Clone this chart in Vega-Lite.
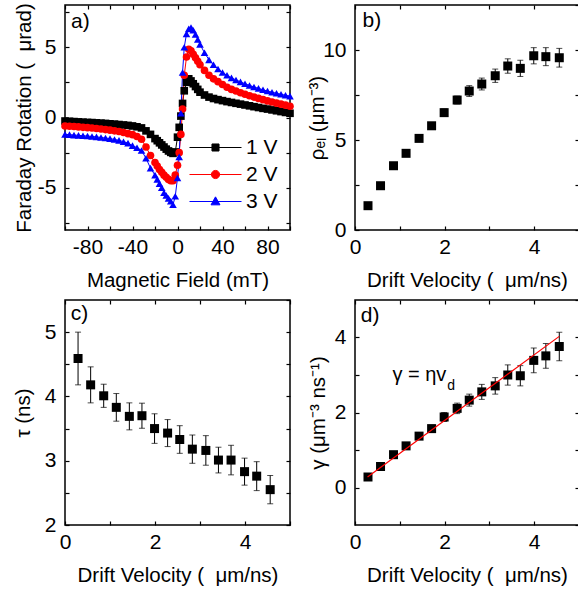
{
"$schema": "https://vega.github.io/schema/vega-lite/v6.json",
"background": "white",
"padding": {"left": 12, "top": 0, "right": 0, "bottom": 0},
"autosize": {"type": "pad"},
"columns": 2,
"spacing": {"row": 70, "column": 65},
"bounds": "flush",
"config": {
  "font": "Liberation Sans",
  "view": {"stroke": "black", "strokeWidth": 1.5},
  "axis": {"domain": false, "grid": false, "ticks": true, "tickColor": "black", "tickSize": -4, "tickWidth": 1.2, "labelFont": "Liberation Sans", "labelFontSize": 21, "labelColor": "black", "titleFont": "Liberation Sans", "titleFontSize": 20.5, "titleFontWeight": "normal", "titleColor": "black", "labelFlush": false, "labelOverlap": false, "labelPadding": 10, "titlePadding": 13},
  "axisY": {"labelPadding": 13},
  "text": {"font": "Liberation Sans", "color": "black"}
},
"datasets": {
"fr": [
{"B":-100,"F":-0.25,"S":"1 V"},{"B":-96,"F":-0.27,"S":"1 V"},{"B":-92,"F":-0.29,"S":"1 V"},{"B":-88,"F":-0.31,"S":"1 V"},{"B":-84,"F":-0.33,"S":"1 V"},{"B":-80,"F":-0.35,"S":"1 V"},{"B":-76,"F":-0.36,"S":"1 V"},{"B":-72,"F":-0.38,"S":"1 V"},{"B":-68,"F":-0.4,"S":"1 V"},{"B":-64,"F":-0.42,"S":"1 V"},{"B":-60,"F":-0.45,"S":"1 V"},{"B":-56,"F":-0.47,"S":"1 V"},{"B":-52,"F":-0.5,"S":"1 V"},{"B":-48,"F":-0.53,"S":"1 V"},{"B":-44,"F":-0.56,"S":"1 V"},{"B":-40,"F":-0.6,"S":"1 V"},{"B":-36,"F":-0.66,"S":"1 V"},{"B":-32,"F":-0.74,"S":"1 V"},{"B":-28,"F":-0.95,"S":"1 V"},{"B":-24,"F":-1.2,"S":"1 V"},
{"B":-20,"F":-1.5,"S":"1 V"},{"B":-18,"F":-1.65,"S":"1 V"},{"B":-16,"F":-1.8,"S":"1 V"},{"B":-14,"F":-1.95,"S":"1 V"},{"B":-12,"F":-2.1,"S":"1 V"},{"B":-10,"F":-2.25,"S":"1 V"},{"B":-8,"F":-2.38,"S":"1 V"},{"B":-6,"F":-2.48,"S":"1 V"},{"B":-4,"F":-2.55,"S":"1 V"},{"B":-2,"F":-2.45,"S":"1 V"},
{"B":0,"F":-1.4,"S":"1 V"},{"B":1.5,"F":-0.7,"S":"1 V"},{"B":3,"F":0.1,"S":"1 V"},{"B":4.5,"F":1.0,"S":"1 V"},{"B":6,"F":1.9,"S":"1 V"},
{"B":8,"F":2.5,"S":"1 V"},{"B":10,"F":2.75,"S":"1 V"},{"B":12,"F":2.6,"S":"1 V"},{"B":14,"F":2.4,"S":"1 V"},{"B":16,"F":2.2,"S":"1 V"},{"B":18,"F":2.0,"S":"1 V"},{"B":20,"F":1.8,"S":"1 V"},
{"B":24,"F":1.6,"S":"1 V"},{"B":28,"F":1.45,"S":"1 V"},{"B":32,"F":1.35,"S":"1 V"},{"B":36,"F":1.27,"S":"1 V"},{"B":40,"F":1.2,"S":"1 V"},{"B":44,"F":1.13,"S":"1 V"},{"B":48,"F":1.07,"S":"1 V"},{"B":52,"F":1.01,"S":"1 V"},{"B":56,"F":0.95,"S":"1 V"},{"B":60,"F":0.89,"S":"1 V"},{"B":64,"F":0.83,"S":"1 V"},{"B":68,"F":0.77,"S":"1 V"},{"B":72,"F":0.71,"S":"1 V"},{"B":76,"F":0.65,"S":"1 V"},{"B":80,"F":0.6,"S":"1 V"},{"B":84,"F":0.54,"S":"1 V"},{"B":88,"F":0.48,"S":"1 V"},{"B":92,"F":0.42,"S":"1 V"},{"B":96,"F":0.36,"S":"1 V"},{"B":100,"F":0.3,"S":"1 V"},
{"B":-100,"F":-0.6,"S":"2 V"},{"B":-96,"F":-0.62,"S":"2 V"},{"B":-92,"F":-0.64,"S":"2 V"},{"B":-88,"F":-0.67,"S":"2 V"},{"B":-84,"F":-0.7,"S":"2 V"},{"B":-80,"F":-0.72,"S":"2 V"},{"B":-76,"F":-0.75,"S":"2 V"},{"B":-72,"F":-0.78,"S":"2 V"},{"B":-68,"F":-0.82,"S":"2 V"},{"B":-64,"F":-0.86,"S":"2 V"},{"B":-60,"F":-0.9,"S":"2 V"},{"B":-56,"F":-0.95,"S":"2 V"},{"B":-52,"F":-1.0,"S":"2 V"},{"B":-48,"F":-1.07,"S":"2 V"},{"B":-44,"F":-1.15,"S":"2 V"},{"B":-40,"F":-1.22,"S":"2 V"},{"B":-36,"F":-1.35,"S":"2 V"},{"B":-32,"F":-1.55,"S":"2 V"},{"B":-28,"F":-2.1,"S":"2 V"},{"B":-24,"F":-2.7,"S":"2 V"},
{"B":-20,"F":-3.2,"S":"2 V"},{"B":-18,"F":-3.45,"S":"2 V"},{"B":-16,"F":-3.7,"S":"2 V"},{"B":-14,"F":-3.9,"S":"2 V"},{"B":-12,"F":-4.1,"S":"2 V"},{"B":-10,"F":-4.25,"S":"2 V"},{"B":-8,"F":-4.4,"S":"2 V"},{"B":-6,"F":-4.5,"S":"2 V"},{"B":-4,"F":-4.5,"S":"2 V"},{"B":-2,"F":-4.1,"S":"2 V"},
{"B":0,"F":-3.4,"S":"2 V"},{"B":1.5,"F":-2.5,"S":"2 V"},{"B":3,"F":-1.2,"S":"2 V"},{"B":4.5,"F":0.6,"S":"2 V"},{"B":6,"F":3.0,"S":"2 V"},
{"B":8,"F":4.3,"S":"2 V"},{"B":10,"F":4.85,"S":"2 V"},{"B":12,"F":4.75,"S":"2 V"},{"B":14,"F":4.5,"S":"2 V"},{"B":16,"F":4.25,"S":"2 V"},{"B":18,"F":4.0,"S":"2 V"},{"B":20,"F":3.75,"S":"2 V"},
{"B":24,"F":3.35,"S":"2 V"},{"B":28,"F":3.0,"S":"2 V"},{"B":32,"F":2.75,"S":"2 V"},{"B":36,"F":2.55,"S":"2 V"},{"B":40,"F":2.35,"S":"2 V"},{"B":44,"F":2.15,"S":"2 V"},{"B":48,"F":2.0,"S":"2 V"},{"B":52,"F":1.88,"S":"2 V"},{"B":56,"F":1.76,"S":"2 V"},{"B":60,"F":1.65,"S":"2 V"},{"B":64,"F":1.55,"S":"2 V"},{"B":68,"F":1.45,"S":"2 V"},{"B":72,"F":1.36,"S":"2 V"},{"B":76,"F":1.27,"S":"2 V"},{"B":80,"F":1.18,"S":"2 V"},{"B":84,"F":1.1,"S":"2 V"},{"B":88,"F":1.02,"S":"2 V"},{"B":92,"F":0.95,"S":"2 V"},{"B":96,"F":0.88,"S":"2 V"},{"B":100,"F":0.8,"S":"2 V"},
{"B":-100,"F":-1.2,"S":"3 V"},{"B":-96,"F":-1.22,"S":"3 V"},{"B":-92,"F":-1.25,"S":"3 V"},{"B":-88,"F":-1.27,"S":"3 V"},{"B":-84,"F":-1.3,"S":"3 V"},{"B":-80,"F":-1.32,"S":"3 V"},{"B":-76,"F":-1.35,"S":"3 V"},{"B":-72,"F":-1.38,"S":"3 V"},{"B":-68,"F":-1.42,"S":"3 V"},{"B":-64,"F":-1.46,"S":"3 V"},{"B":-60,"F":-1.5,"S":"3 V"},{"B":-56,"F":-1.56,"S":"3 V"},{"B":-52,"F":-1.63,"S":"3 V"},{"B":-48,"F":-1.72,"S":"3 V"},{"B":-44,"F":-1.82,"S":"3 V"},{"B":-40,"F":-2.0,"S":"3 V"},{"B":-36,"F":-2.15,"S":"3 V"},{"B":-32,"F":-2.35,"S":"3 V"},{"B":-28,"F":-2.9,"S":"3 V"},{"B":-24,"F":-3.6,"S":"3 V"},
{"B":-20,"F":-4.1,"S":"3 V"},{"B":-18,"F":-4.4,"S":"3 V"},{"B":-16,"F":-4.7,"S":"3 V"},{"B":-14,"F":-5.0,"S":"3 V"},{"B":-12,"F":-5.35,"S":"3 V"},{"B":-10,"F":-5.55,"S":"3 V"},{"B":-8,"F":-5.75,"S":"3 V"},{"B":-6,"F":-5.95,"S":"3 V"},{"B":-4,"F":-6.2,"S":"3 V"},{"B":-2,"F":-5.6,"S":"3 V"},
{"B":0,"F":-4.3,"S":"3 V"},{"B":1.5,"F":-2.8,"S":"3 V"},{"B":3,"F":0.3,"S":"3 V"},{"B":4.5,"F":3.2,"S":"3 V"},{"B":6,"F":5.0,"S":"3 V"},
{"B":8,"F":5.95,"S":"3 V"},{"B":10,"F":6.3,"S":"3 V"},{"B":12,"F":6.4,"S":"3 V"},{"B":14,"F":6.2,"S":"3 V"},{"B":16,"F":5.9,"S":"3 V"},{"B":18,"F":5.55,"S":"3 V"},{"B":20,"F":5.2,"S":"3 V"},
{"B":24,"F":4.6,"S":"3 V"},{"B":28,"F":4.1,"S":"3 V"},{"B":32,"F":3.75,"S":"3 V"},{"B":36,"F":3.45,"S":"3 V"},{"B":40,"F":3.2,"S":"3 V"},{"B":44,"F":3.0,"S":"3 V"},{"B":48,"F":2.82,"S":"3 V"},{"B":52,"F":2.67,"S":"3 V"},{"B":56,"F":2.53,"S":"3 V"},{"B":60,"F":2.4,"S":"3 V"},{"B":64,"F":2.28,"S":"3 V"},{"B":68,"F":2.17,"S":"3 V"},{"B":72,"F":2.07,"S":"3 V"},{"B":76,"F":1.97,"S":"3 V"},{"B":80,"F":1.88,"S":"3 V"},{"B":84,"F":1.8,"S":"3 V"},{"B":88,"F":1.72,"S":"3 V"},{"B":92,"F":1.65,"S":"3 V"},{"B":96,"F":1.58,"S":"3 V"},{"B":100,"F":1.52,"S":"3 V"}
],
"rho": [
{"v":0.29,"r":1.35,"e":0.1},{"v":0.57,"r":2.46,"e":0.1},{"v":0.86,"r":3.57,"e":0.12},{"v":1.14,"r":4.26,"e":0.13},{"v":1.43,"r":5.09,"e":0.15},{"v":1.71,"r":5.79,"e":0.17},{"v":1.99,"r":6.52,"e":0.2},{"v":2.28,"r":7.22,"e":0.22},{"v":2.55,"r":7.72,"e":0.3},{"v":2.83,"r":8.11,"e":0.33},{"v":3.13,"r":8.57,"e":0.37},{"v":3.41,"r":9.11,"e":0.4},{"v":3.69,"r":8.98,"e":0.45},{"v":3.99,"r":9.68,"e":0.45},{"v":4.26,"r":9.63,"e":0.5},{"v":4.56,"r":9.57,"e":0.52}
],
"tau": [
{"v":0.29,"t":4.59,"e":0.41},{"v":0.57,"t":4.18,"e":0.28},{"v":0.86,"t":4.01,"e":0.18},{"v":1.14,"t":3.83,"e":0.215},{"v":1.43,"t":3.69,"e":0.21},{"v":1.71,"t":3.7,"e":0.195},{"v":1.99,"t":3.5,"e":0.23},{"v":2.28,"t":3.43,"e":0.21},{"v":2.55,"t":3.33,"e":0.215},{"v":2.83,"t":3.18,"e":0.22},{"v":3.13,"t":3.16,"e":0.23},{"v":3.41,"t":3.01,"e":0.2},{"v":3.69,"t":3.01,"e":0.23},{"v":3.99,"t":2.83,"e":0.21},{"v":4.26,"t":2.76,"e":0.225},{"v":4.56,"t":2.55,"e":0.22}
],
"gam": [
{"v":0.29,"g":0.28,"e":0.04},{"v":0.57,"g":0.56,"e":0.05},{"v":0.86,"g":0.875,"e":0.06},{"v":1.14,"g":1.11,"e":0.07},{"v":1.43,"g":1.37,"e":0.08},{"v":1.71,"g":1.57,"e":0.09},{"v":1.99,"g":1.88,"e":0.12},{"v":2.28,"g":2.11,"e":0.14},{"v":2.55,"g":2.33,"e":0.16},{"v":2.83,"g":2.55,"e":0.2},{"v":3.13,"g":2.71,"e":0.22},{"v":3.41,"g":3.0,"e":0.27},{"v":3.69,"g":2.98,"e":0.27},{"v":3.99,"g":3.39,"e":0.33},{"v":4.26,"g":3.51,"e":0.33},{"v":4.56,"g":3.76,"e":0.38}
],
"fit": [{"v":0.28,"g":0.28},{"v":4.56,"g":4.03}],
"leg": [{"S":"1 V"},{"S":"2 V"},{"S":"3 V"}]
},
"concat": [
{
 "width": 225, "height": 225,
 "data": {"name": "fr"},
 "layer": [
  {"mark": {"type": "line", "strokeWidth": 1, "opacity": 1},
   "encoding": {
    "x": {"field": "B", "type": "quantitative", "scale": {"domain": [-100, 100], "nice": false, "zero": false}, "axis": null},
    "y": {"field": "F", "type": "quantitative", "scale": {"domain": [-8, 8], "nice": false, "zero": false}, "axis": null},
    "color": {"field": "S", "type": "nominal", "scale": {"domain": ["1 V", "2 V", "3 V"], "range": ["#000000", "#ff0000", "#0000ff"]}, "legend": null}
   }},
  {"mark": {"type": "point", "filled": true, "size": 58, "opacity": 1, "strokeWidth": 0},
   "encoding": {
    "x": {"field": "B", "type": "quantitative", "scale": {"domain": [-100, 100], "nice": false, "zero": false},
      "axis": {"title": "Magnetic Field (mT)", "values": [-100, -80, -60, -40, -20, 0, 20, 40, 60, 80, 100], "labelExpr": "datum.value % 40 === 0 ? replace(format(datum.value, 'd'), '\u2212', '-') : ''"}},
    "y": {"field": "F", "type": "quantitative", "scale": {"domain": [-8, 8], "nice": false, "zero": false},
      "axis": {"title": "Faraday Rotation (\u00a0 \u03bcrad)", "values": [-7.5, -5, -2.5, 0, 2.5, 5, 7.5], "labelExpr": "datum.value % 5 === 0 ? replace(format(datum.value, 'd'), '\u2212', '-') : ''", "titlePadding": 3}},
    "color": {"field": "S", "type": "nominal", "scale": {"domain": ["1 V", "2 V", "3 V"], "range": ["#000000", "#ff0000", "#0000ff"]}, "legend": null},
    "shape": {"field": "S", "type": "nominal", "scale": {"domain": ["1 V", "2 V", "3 V"], "range": ["square", "circle", "triangle-up"]}, "legend": null}
   }},
  {"data": {"name": "leg"},
   "mark": {"type": "point", "filled": true, "opacity": 0, "size": 55},
   "encoding": {
    "color": {"field": "S", "type": "nominal", "scale": {"domain": ["1 V", "2 V", "3 V"], "range": ["#000000", "#ff0000", "#0000ff"]},
      "legend": {"orient": "none", "legendX": 140, "legendY": 132, "title": null, "symbolSize": 55.2, "symbolStrokeWidth": 1, "symbolOpacity": 1, "labelFont": "Liberation Sans", "labelFontSize": 21, "labelColor": "black", "labelOffset": 20, "rowPadding": 5, "padding": 0}},
    "stroke": {"field": "S", "type": "nominal", "scale": {"domain": ["1 V", "2 V", "3 V"], "range": ["#000000", "#ff0000", "#0000ff"]},
      "legend": {"orient": "none", "legendX": 140, "legendY": 132, "title": null, "symbolSize": 55.2, "symbolStrokeWidth": 1, "symbolOpacity": 1, "labelFont": "Liberation Sans", "labelFontSize": 21, "labelColor": "black", "labelOffset": 20, "rowPadding": 5, "padding": 0}},
    "shape": {"field": "S", "type": "nominal", "scale": {"domain": ["1 V", "2 V", "3 V"], "range": ["M-7,0H7M-0.95,-0.95H0.95V0.95H-0.95Z", "M-7,0H7M1.1,0A1.1,1.1,0,1,1,-1.1,0A1.1,1.1,0,1,1,1.1,0Z", "M-7,0H7M0,-1.25L1.2,0.9L-1.2,0.9Z"]},
      "legend": {"orient": "none", "legendX": 140, "legendY": 132, "title": null, "symbolSize": 55.2, "symbolStrokeWidth": 1, "symbolOpacity": 1, "labelFont": "Liberation Sans", "labelFontSize": 21, "labelColor": "black", "labelOffset": 20, "rowPadding": 5, "padding": 0}}
   }},
  {"data": {"values": [{}]},
   "mark": {"type": "text", "text": "a)", "align": "left", "baseline": "middle", "fontSize": 21},
   "encoding": {
    "x": {"datum": -94.7, "type": "quantitative", "scale": {"domain": [-100, 100], "nice": false, "zero": false}, "axis": null},
    "y": {"datum": 6.8, "type": "quantitative", "scale": {"domain": [-8, 8], "nice": false, "zero": false}, "axis": null}
   }},
  {"mark": {"type": "point", "opacity": 0},
   "encoding": {
    "x": {"field": "B", "type": "quantitative", "scale": {"domain": [-100, 100], "nice": false, "zero": false}, "axis": {"orient": "top", "labels": false, "title": null, "values": [-100, -80, -60, -40, -20, 0, 20, 40, 60, 80, 100]}},
    "y": {"field": "F", "type": "quantitative", "scale": {"domain": [-8, 8], "nice": false, "zero": false}, "axis": {"orient": "right", "labels": false, "title": null, "values": [-7.5, -5, -2.5, 0, 2.5, 5, 7.5]}}
   }}
 ],
 "resolve": {"scale": {"color": "independent", "shape": "independent", "stroke": "independent"}, "axis": {"x": "independent", "y": "independent"}}
},
{
 "width": 224, "height": 225,
 "data": {"name": "rho"},
 "layer": [
  {"mark": {"type": "errorbar", "ticks": {"size": 6, "color": "black"}, "rule": {"color": "black", "strokeWidth": 1}},
   "encoding": {
    "x": {"field": "v", "type": "quantitative", "scale": {"domain": [0, 5], "nice": false, "zero": false}, "axis": null},
    "y": {"field": "r", "type": "quantitative", "scale": {"domain": [0, 12.5], "nice": false, "zero": false}, "axis": null},
    "yError": {"field": "e"}
   }},
  {"mark": {"type": "point", "shape": "square", "filled": true, "size": 81, "color": "black", "opacity": 1},
   "encoding": {
    "x": {"field": "v", "type": "quantitative", "scale": {"domain": [0, 5], "nice": false, "zero": false},
      "axis": {"title": "Drift Velocity (\u00a0 \u03bcm/ns)", "values": [0, 1, 2, 3, 4, 5], "labelExpr": "datum.value % 2 === 0 && datum.value < 5 ? format(datum.value, 'd') : ''"}},
    "y": {"field": "r", "type": "quantitative", "scale": {"domain": [0, 12.5], "nice": false, "zero": false},
      "axis": {"title": "\u03c1\u2091\u2097 (\u03bcm\u207b\u00b3)", "values": [0, 2.5, 5, 7.5, 10], "labelExpr": "datum.value % 5 === 0 ? format(datum.value, 'd') : ''", "titlePadding": -5}}
   }},
  {"data": {"values": [{}]},
   "mark": {"type": "text", "text": "b)", "align": "left", "baseline": "middle", "fontSize": 21},
   "encoding": {
    "x": {"datum": 0.17, "type": "quantitative", "scale": {"domain": [0, 5], "nice": false, "zero": false}, "axis": null},
    "y": {"datum": 11.6, "type": "quantitative", "scale": {"domain": [0, 12.5], "nice": false, "zero": false}, "axis": null}
   }},
  {"mark": {"type": "point", "opacity": 0},
   "encoding": {
    "x": {"field": "v", "type": "quantitative", "scale": {"domain": [0, 5], "nice": false, "zero": false}, "axis": {"orient": "top", "labels": false, "title": null, "values": [0, 1, 2, 3, 4, 5]}},
    "y": {"field": "r", "type": "quantitative", "scale": {"domain": [0, 12.5], "nice": false, "zero": false}, "axis": {"orient": "right", "labels": false, "title": null, "values": [0, 2.5, 5, 7.5, 10, 12.5]}}
   }}
 ],
 "resolve": {"axis": {"x": "independent", "y": "independent"}}
},
{
 "width": 225, "height": 225,
 "data": {"name": "tau"},
 "layer": [
  {"mark": {"type": "errorbar", "ticks": {"size": 6, "color": "black"}, "rule": {"color": "black", "strokeWidth": 1}},
   "encoding": {
    "x": {"field": "v", "type": "quantitative", "scale": {"domain": [0, 5], "nice": false, "zero": false}, "axis": null},
    "y": {"field": "t", "type": "quantitative", "scale": {"domain": [2, 5.5], "nice": false, "zero": false}, "axis": null},
    "yError": {"field": "e"}
   }},
  {"mark": {"type": "point", "shape": "square", "filled": true, "size": 81, "color": "black", "opacity": 1},
   "encoding": {
    "x": {"field": "v", "type": "quantitative", "scale": {"domain": [0, 5], "nice": false, "zero": false},
      "axis": {"title": "Drift Velocity (\u00a0 \u03bcm/ns)", "values": [0, 1, 2, 3, 4, 5], "labelExpr": "datum.value % 2 === 0 && datum.value < 5 ? format(datum.value, 'd') : ''"}},
    "y": {"field": "t", "type": "quantitative", "scale": {"domain": [2, 5.5], "nice": false, "zero": false},
      "axis": {"title": "\u03c4 (ns)", "values": [2, 2.5, 3, 3.5, 4, 4.5, 5], "labelExpr": "datum.value % 1 === 0 ? format(datum.value, 'd') : ''", "titlePadding": 11}}
   }},
  {"data": {"values": [{}]},
   "mark": {"type": "text", "text": "c)", "align": "left", "baseline": "middle", "fontSize": 21},
   "encoding": {
    "x": {"datum": 0.13, "type": "quantitative", "scale": {"domain": [0, 5], "nice": false, "zero": false}, "axis": null},
    "y": {"datum": 5.28, "type": "quantitative", "scale": {"domain": [2, 5.5], "nice": false, "zero": false}, "axis": null}
   }},
  {"mark": {"type": "point", "opacity": 0},
   "encoding": {
    "x": {"field": "v", "type": "quantitative", "scale": {"domain": [0, 5], "nice": false, "zero": false}, "axis": {"orient": "top", "labels": false, "title": null, "values": [0, 1, 2, 3, 4, 5]}},
    "y": {"field": "t", "type": "quantitative", "scale": {"domain": [2, 5.5], "nice": false, "zero": false}, "axis": {"orient": "right", "labels": false, "title": null, "values": [2, 2.5, 3, 3.5, 4, 4.5, 5, 5.5]}}
   }}
 ],
 "resolve": {"axis": {"x": "independent", "y": "independent"}}
},
{
 "width": 224, "height": 225,
 "data": {"name": "gam"},
 "layer": [
  {"mark": {"type": "errorbar", "ticks": {"size": 6, "color": "black"}, "rule": {"color": "black", "strokeWidth": 1}},
   "encoding": {
    "x": {"field": "v", "type": "quantitative", "scale": {"domain": [0, 5], "nice": false, "zero": false}, "axis": null},
    "y": {"field": "g", "type": "quantitative", "scale": {"domain": [-1, 5], "nice": false, "zero": false}, "axis": null},
    "yError": {"field": "e"}
   }},
  {"mark": {"type": "point", "shape": "square", "filled": true, "size": 81, "color": "black", "opacity": 1},
   "encoding": {
    "x": {"field": "v", "type": "quantitative", "scale": {"domain": [0, 5], "nice": false, "zero": false},
      "axis": {"title": "Drift Velocity (\u00a0 \u03bcm/ns)", "values": [0, 1, 2, 3, 4, 5], "labelExpr": "datum.value % 2 === 0 && datum.value < 5 ? format(datum.value, 'd') : ''"}},
    "y": {"field": "g", "type": "quantitative", "scale": {"domain": [-1, 5], "nice": false, "zero": false},
      "axis": {"title": "\u03b3 (\u03bcm\u207b\u00b3 ns\u207b\u00b9)", "values": [0, 1, 2, 3, 4], "labelExpr": "datum.value % 2 === 0 ? format(datum.value, 'd') : ''", "titlePadding": 5.5}}
   }},
  {"data": {"name": "fit"},
   "mark": {"type": "line", "color": "#ff0000", "strokeWidth": 1.2},
   "encoding": {
    "x": {"field": "v", "type": "quantitative", "scale": {"domain": [0, 5], "nice": false, "zero": false}, "axis": null},
    "y": {"field": "g", "type": "quantitative", "scale": {"domain": [-1, 5], "nice": false, "zero": false}, "axis": null}
   }},
  {"data": {"values": [{}]},
   "mark": {"type": "text", "text": "d)", "align": "left", "baseline": "middle", "fontSize": 21},
   "encoding": {
    "x": {"datum": 0.13, "type": "quantitative", "scale": {"domain": [0, 5], "nice": false, "zero": false}, "axis": null},
    "y": {"datum": 4.57, "type": "quantitative", "scale": {"domain": [-1, 5], "nice": false, "zero": false}, "axis": null}
   }},
  {"data": {"values": [{}]},
   "mark": {"type": "text", "text": "\u03b3 = \u03b7v", "align": "left", "baseline": "middle", "fontSize": 20},
   "encoding": {
    "x": {"datum": 0.835, "type": "quantitative", "scale": {"domain": [0, 5], "nice": false, "zero": false}, "axis": null},
    "y": {"datum": 3.0, "type": "quantitative", "scale": {"domain": [-1, 5], "nice": false, "zero": false}, "axis": null}
   }},
  {"data": {"values": [{}]},
   "mark": {"type": "text", "text": "d", "align": "left", "baseline": "middle", "fontSize": 14},
   "encoding": {
    "x": {"datum": 2.06, "type": "quantitative", "scale": {"domain": [0, 5], "nice": false, "zero": false}, "axis": null},
    "y": {"datum": 2.72, "type": "quantitative", "scale": {"domain": [-1, 5], "nice": false, "zero": false}, "axis": null}
   }},
  {"mark": {"type": "point", "opacity": 0},
   "encoding": {
    "x": {"field": "v", "type": "quantitative", "scale": {"domain": [0, 5], "nice": false, "zero": false}, "axis": {"orient": "top", "labels": false, "title": null, "values": [0, 1, 2, 3, 4, 5]}},
    "y": {"field": "g", "type": "quantitative", "scale": {"domain": [-1, 5], "nice": false, "zero": false}, "axis": {"orient": "right", "labels": false, "title": null, "values": [-1, 0, 1, 2, 3, 4, 5]}}
   }}
 ],
 "resolve": {"axis": {"x": "independent", "y": "independent"}}
}
]
}
